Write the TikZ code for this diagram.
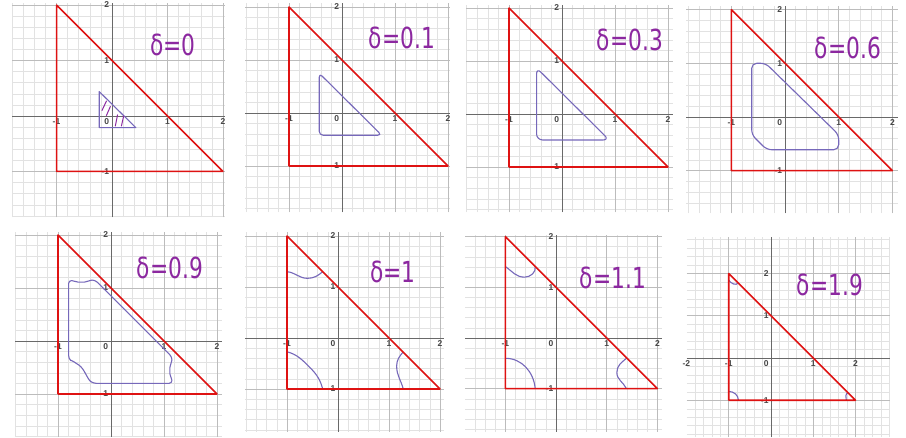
\documentclass[tikz,border=0pt]{standalone}
\usepackage{amsmath}
\usepackage{amssymb}
\usepackage{fontspec}
\setsansfont{Liberation Sans}
\newfontfamily\handfont{DejaVu Sans}

\definecolor{gridminor}{RGB}{226,226,226}
\definecolor{gridmajor}{RGB}{188,188,188}
\definecolor{axisgray}{RGB}{105,105,105}
\definecolor{ticktext}{RGB}{70,70,70}
\definecolor{trired}{RGB}{222,18,18}
\definecolor{levelblue}{RGB}{118,104,186}
\definecolor{inkpurple}{RGB}{140,40,160}

\tikzset{
  minorgrid/.style={gridminor, line width=0.5pt},
  majorgrid/.style={gridmajor, line width=0.7pt},
  axisline/.style={axisgray, line width=0.9pt},
  ticklab/.style={font=\fontsize{8.5}{9}\sffamily\bfseries, text=ticktext, inner sep=1pt},
  redtri/.style={trired, line width=1.6pt, line join=round},
  level/.style={levelblue, line width=1.1pt, line join=round},
  hatch/.style={inkpurple, line width=1pt, line cap=round},
  deltalab/.style={text=inkpurple, font=\fontsize{29}{32}\handfont, xscale=0.75, transform shape, inner sep=0pt},
}

% grid, axes and tick labels of one panel
\newcommand\graphpanel[6]{%
  \draw[minorgrid] (#2,#4) grid[step=0.2] (#3,#5);
  \draw[majorgrid] (#2,#4) grid[step=1] (#3,#5);
  \draw[axisline] (#2,0) -- (#3,0);
  \draw[axisline] (0,#4) -- (0,#5);
  \foreach \k [count=\i] in {#6}
    \node[ticklab, anchor=north] (#1x\i) at (\k,-0.03) {\k};
  \node[ticklab, anchor=north east] (#1o) at (-0.03,-0.03) {0};
  \foreach \k [count=\i] in {-1,1,2}
    \node[ticklab, anchor=east] (#1y\i) at (-0.03,\k) {\k};
}
% the red triangle
\newcommand\redtriangle[1]{%
  \coordinate (#1a) at (-1,2);
  \coordinate (#1b) at (-1,-1);
  \coordinate (#1c) at (2,-1);
  \draw[redtri] (#1a) -- (#1b) -- (#1c) -- cycle;
}

\begin{document}
\begin{tikzpicture}[x=1pt,y=1pt]

% page
\fill[white] (0,0) rectangle (906,438);

% delta = 0
\begin{scope}[shift={(112,322)}, scale=55.5]
\graphpanel{pa}{-1.8}{2.04}{-1.82}{2.04}{-1,1,2}
\draw[level] (-0.23,0.44) -- (-0.23,-0.21) -- (0.43,-0.21) -- cycle;
\draw[hatch] (-0.1,0.27) -- (-0.18,0.1);
\draw[hatch] (-0.03,0.17) -- (-0.1,0.01);
\draw[hatch] (0.1,0.02) -- (0.06,-0.18);
\draw[hatch] (0.21,0.0) -- (0.17,-0.18);
\redtriangle{pa}
\end{scope}
\node[deltalab] (la) at (173,393) {δ=0};

% delta = 0.1
\begin{scope}[shift={(342,325)}, scale=53]
\graphpanel{pb}{-1.83}{2.04}{-1.87}{2.07}{-1,1,2}
\draw[level, rounded corners=4pt] (-0.43,0.75) -- (-0.43,-0.42) -- (0.75,-0.42) -- cycle;
\redtriangle{pb}
\end{scope}
\node[deltalab] (lb) at (402,400) {δ=0.1};

% delta = 0.3
\begin{scope}[shift={(562,324)}, scale=53]
\graphpanel{pc}{-1.81}{2.09}{-1.85}{2.06}{-1,1,2}
\draw[level, rounded corners=6pt] (-0.48,0.87) -- (-0.48,-0.49) -- (0.89,-0.49) -- cycle;
\redtriangle{pc}
\end{scope}
\node[deltalab] (lc) at (630,398) {δ=0.3};

% delta = 0.6
\begin{scope}[shift={(785,321)}, scale=53.7]
\graphpanel{pd}{-1.84}{2.1}{-1.79}{2.07}{-1,1,2}
\draw[level, rounded corners=5pt] (-0.62,1.0) -- (-0.36,1.0) -- (1.0,-0.33) -- (1.0,-0.61)
  -- (-0.34,-0.61) -- (-0.62,-0.33) -- cycle;
\redtriangle{pd}
\end{scope}
\node[deltalab] (ld) at (848,390) {δ=0.6};

% delta = 0.9
\begin{scope}[shift={(111,97)}, scale=53]
\graphpanel{pe}{-1.81}{2.09}{-1.81}{2.06}{-1,1,2}
\draw[level, rounded corners=3pt] (-0.8,1.14) to[out=0,in=180] (-0.56,1.11) to[out=0,in=180] (-0.3,1.15)
  -- (1.15,-0.3) to[out=-90,in=90] (1.11,-0.56) to[out=-90,in=90] (1.15,-0.8)
  -- (-0.33,-0.8) .. controls (-0.45,-0.72) and (-0.5,-0.52) .. (-0.66,-0.42)
  .. controls (-0.72,-0.38) and (-0.78,-0.35) .. (-0.8,-0.33) -- cycle;
\redtriangle{pe}
\end{scope}
\node[deltalab] (le) at (170,170) {δ=0.9};

% delta = 1
\begin{scope}[shift={(338,100)}, scale=51]
\graphpanel{pf}{-1.82}{2.08}{-1.84}{2.08}{-1,1,2}
\draw[level] (-1,1.3) to[out=-5,in=180] (-0.6,1.17) to[out=0,in=-140] (-0.3,1.3);
\draw[level] (-1,-0.27) to[out=-15,in=135] (-0.55,-0.58) to[out=-45,in=105] (-0.3,-1);
\draw[level] (1.28,-0.27) to[out=-130,in=90] (1.15,-0.55) to[out=-90,in=105] (1.28,-1);
\redtriangle{pf}
\end{scope}
\node[deltalab] (lf) at (393,166) {δ=1};

% delta = 1.1
\begin{scope}[shift={(556,100)}, scale=50.7]
\graphpanel{pg}{-1.79}{2.09}{-1.85}{2.03}{-1,1,2}
\draw[level] (-1,1.41) to[out=-35,in=180] (-0.62,1.2) to[out=0,in=-80] (-0.41,1.41);
\draw[level] (-1,-0.4) to[out=0,in=95] (-0.41,-1);
\draw[level] (1.39,-0.4) to[out=-140,in=90] (1.2,-0.68) to[out=-90,in=115] (1.39,-1);
\redtriangle{pg}
\end{scope}
\node[deltalab] (lg) at (613,160) {δ=1.1};

% delta = 1.9
\begin{scope}[shift={(771,80)}, scale=42.3]
\graphpanel{ph}{-1.99}{2.81}{-1.87}{2.86}{-2,-1,1,2}
\draw[level] (-1,1.84) to[out=-60,in=-110] (-0.78,1.78);
\draw[level] (-1,-0.79) to[out=0,in=90] (-0.77,-1);
\draw[level] (1.82,-0.82) to[out=-160,in=100] (1.78,-1);
\redtriangle{ph}
\end{scope}
\node[deltalab] (lh) at (830,153) {δ=1.9};

\end{tikzpicture}
\end{document}
